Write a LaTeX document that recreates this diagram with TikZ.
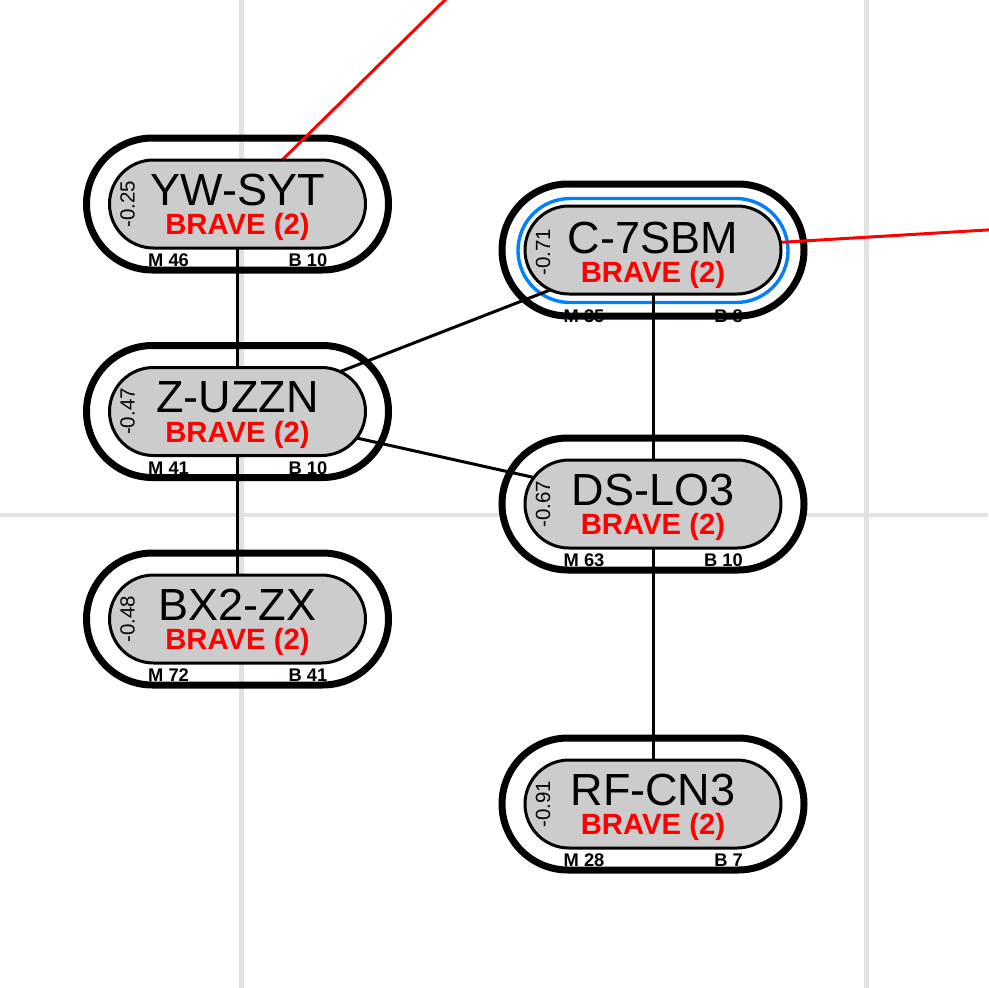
\documentclass[tikz,border=0pt]{standalone}
\usepackage{fontspec}
\setmainfont{Liberation Sans}
\usetikzlibrary{shapes.misc}
\pgfdeclarelayer{gridh}
\pgfdeclarelayer{ofill}
\pgfdeclarelayer{gridv}
\pgfdeclarelayer{olab}
\pgfdeclarelayer{odraw}
\pgfdeclarelayer{conn}
\pgfsetlayers{gridh,ofill,gridv,olab,odraw,conn,main}
\definecolor{gridgray}{RGB}{226,226,226}
\definecolor{capgray}{RGB}{204,204,204}
\definecolor{ringblue}{RGB}{0,128,255}
\tikzset{
  innercap/.style={rounded rectangle, draw=black, line width=3pt, fill=capgray,
    minimum width=256pt, minimum height=88pt, inner sep=0pt, outer sep=0pt},
  outercap/.style={rounded rectangle, minimum width=302pt, minimum height=132pt,
    inner sep=0pt, outer sep=0pt},
  ringcap/.style={rounded rectangle, draw=ringblue, line width=3.4pt,
    minimum width=270pt, minimum height=104pt, inner sep=0pt, outer sep=0pt},
  gridline/.style={draw=gridgray, line width=4.7pt},
  conline/.style={draw=black, line width=3pt},
  redline/.style={draw=red, line width=3pt},
  titletext/.style={inner sep=0pt, anchor=base, font=\fontsize{45}{54}\selectfont},
  bravetext/.style={inner sep=0pt, anchor=base, text=red, font=\bfseries\fontsize{29.3}{34}\selectfont},
  scoretext/.style={inner sep=0pt, anchor=center, rotate=90, font=\fontsize{20.5}{24}\selectfont},
  labtext/.style={inner sep=0pt, font=\bfseries\fontsize{18.3}{20}\selectfont},
}
% #1 name, #2 x, #3 y, #4 title, #5 score, #6 M, #7 B, #8 text shift, #9 label shift
\newcommand\capnode[9]{%
  \begin{pgfonlayer}{ofill}
    \node[outercap, fill=white] (#1-f) at (#2,#3) {};
  \end{pgfonlayer}
  \begin{pgfonlayer}{olab}
    \node[labtext, anchor=base west] (#1-m) at (#2-89.5,#3+62.7+#9) {M #6};
    \node[labtext, anchor=base east] (#1-b) at (#2+90,#3+62.7+#9) {B #7};
  \end{pgfonlayer}
  \begin{pgfonlayer}{odraw}
    \node[outercap, draw=black, line width=7pt] (#1-o) at (#2,#3) {};
  \end{pgfonlayer}
  \node[innercap] (#1) at (#2,#3) {};
  \node[titletext] (#1-t) at (#2,#3+1+#8) {#4};
  \node[bravetext] (#1-v) at (#2,#3+30.5+#8) {BRAVE (2)};
  \node[scoretext] (#1-s) at (#2-110,#3+#8) {#5};
}
\begin{document}
\begin{tikzpicture}[x=1pt,y=-1pt]
\clip (0,0) rectangle (988,988);
\begin{pgfonlayer}{gridh}
  \fill[white] (0,0) rectangle (988,988);
  \coordinate (gh1) at (0,515);
  \coordinate (gh2) at (988,515);
  \draw[gridline] (gh1) -- (gh2);
\end{pgfonlayer}
\begin{pgfonlayer}{gridv}
  \coordinate (gv1a) at (241.3,0);
  \coordinate (gv1b) at (241.3,988);
  \coordinate (gv2a) at (866.7,0);
  \coordinate (gv2b) at (866.7,988);
  \draw[gridline] (gv1a) -- (gv1b);
  \draw[gridline] (gv2a) -- (gv2b);
\end{pgfonlayer}

\capnode{ywsyt}{237.5}{204}{YW-SYT}{-0.25}{46}{10}{0}{0}
\capnode{zuzzn}{237.5}{411.5}{Z-UZZN}{-0.47}{41}{10}{0}{0}
\capnode{bxzx}{237.5}{619}{BX2-ZX}{-0.48}{72}{41}{0}{0}
\capnode{csbm}{653}{250}{C-7SBM}{-0.71}{35}{8}{2}{10}
\capnode{dslo}{653}{504}{DS-LO3}{-0.67}{63}{10}{0}{0}
\capnode{rfcn}{653}{804}{RF-CN3}{-0.91}{28}{7}{0}{0}

\begin{pgfonlayer}{odraw}
  \node[ringcap] (csbm-ring) at (653,250.5) {};
\end{pgfonlayer}

\coordinate (offA) at (455.1,-10);
\coordinate (offB) at (1000,229.2);
\begin{pgfonlayer}{conn}
  \draw[conline] (ywsyt) -- (zuzzn);
  \draw[conline] (zuzzn) -- (bxzx);
  \draw[conline] (zuzzn) -- (csbm);
  \draw[conline] (zuzzn) -- (dslo);
  \draw[conline] (csbm) -- (dslo);
  \draw[conline] (dslo) -- (rfcn);
  \draw[redline] (ywsyt) -- (offA);
  \draw[redline] (csbm) -- (offB);
\end{pgfonlayer}
\end{tikzpicture}
\end{document}
